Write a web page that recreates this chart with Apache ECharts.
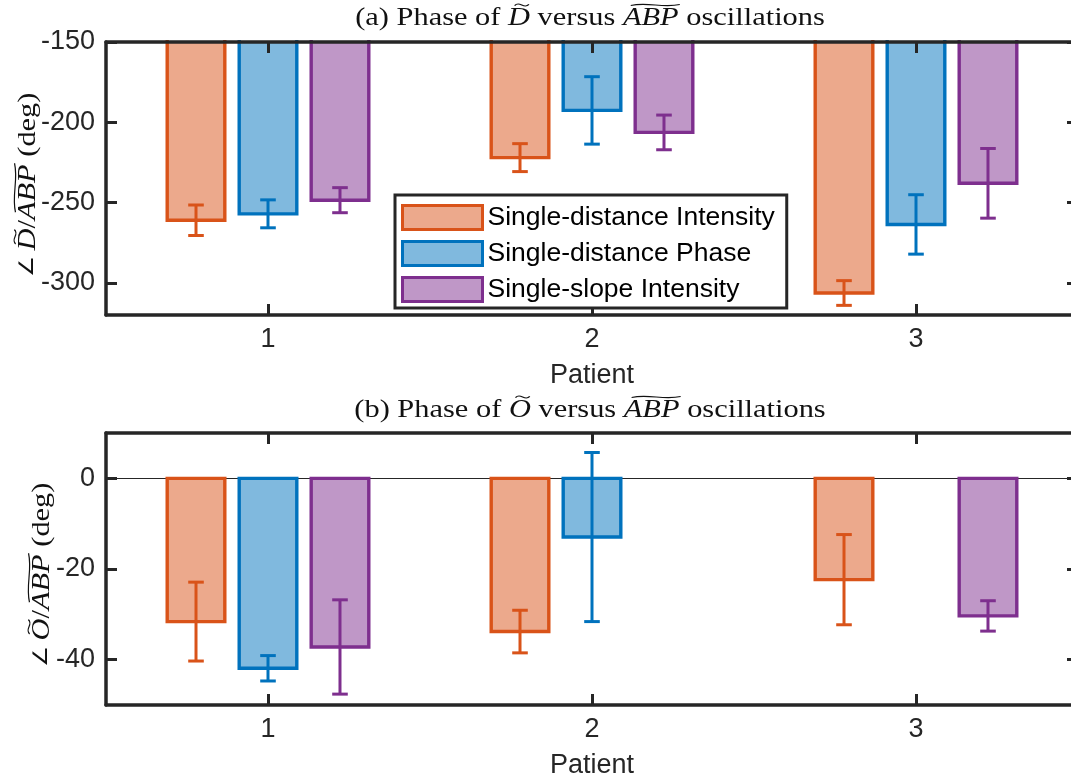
<!DOCTYPE html>
<html><head><meta charset="utf-8">
<script src="https://cdn.jsdelivr.net/npm/echarts@6/dist/echarts.min.js"></script>
<style>html,body{margin:0;padding:0;background:#fff}#c{width:1071px;height:782px}</style>
</head><body><div id="c"></div>
<script>
// ---------- data ----------
const categories = ['1', '2', '3'];
const seriesNames = ['Single-distance Intensity', 'Single-distance Phase', 'Single-slope Intensity'];
// Panel (a): phase of D~ vs ABP~ (deg)
const dMeanSDI = [-261, -222, -306.3];
const dErrSDI  = [9.5, 8.7, 7.7];
const dMeanSDP = [-257, -192.6, -263.6];
const dErrSDP  = [8.7, 21, 18.5];
const dMeanSSI = [-248.5, -206.3, -238];
const dErrSSI  = [7.8, 10.8, 21.7];
// Panel (b): phase of O~ vs ABP~ (deg)
const oMeanSDI = [-31.6, -33.8, -22.35];
const oErrSDI  = [8.7, 4.7, 9.95];
const oMeanSDP = [-41.9, -12.95, null];
const oErrSDP  = [2.8, 18.65, null];
const oMeanSSI = [-37.2, null, -30.35];
const oErrSSI  = [10.4, null, 3.35];
const yTicksA = [-300, -250, -200, -150];
const yTicksB = [-40, -20, 0];

// ---------- style ----------
const edge = ['#D95319', '#0072BD', '#7E2F8E'];
const fill = ['#ECA98C', '#80B9DE', '#BF97C7'];
const AX = '#262626';
const SANS = 'Liberation Sans, Arial, Helvetica, sans-serif';
const SERIF = 'Liberation Serif, Times New Roman, serif';
const FS = 27;

const chart = echarts.init(document.getElementById('c'), null, {renderer: 'canvas'});

function pack(means, errs) {
  return means.map((m, i) => (m == null ? [i, '-', '-'] : [i, m, errs[i]]));
}

function makeRender(k) {
  return function (params, api) {
    const v = api.value(1);
    if (v == null || isNaN(v)) return;
    const cat = api.value(0), e = api.value(2);
    const cs = params.coordSys;
    const band = api.size([1, 0])[0];
    const c = api.coord([cat, v]);
    const cx = c[0] + (k - 1) * band * 0.2222;
    const w = band * 0.1778;
    const x0 = cx - w / 2, x1 = cx + w / 2;
    const yv = c[1];
    const yz = api.coord([cat, 0])[1];
    const inside = yz >= cs.y && yz <= cs.y + cs.height;
    const top = Math.max(cs.y, Math.min(cs.y + cs.height, yz));
    const children = [];
    children.push({type: 'rect', shape: {x: x0, y: Math.min(top, yv), width: w, height: Math.abs(yv - top)},
      style: {fill: fill[k], stroke: null}});
    if (inside) {
      children.push({type: 'rect', shape: {x: x0, y: Math.min(top, yv), width: w, height: Math.abs(yv - top)},
        style: {fill: null, stroke: edge[k], lineWidth: 3.4}});
    } else {
      children.push({type: 'polyline', shape: {points: [[x0, top - 2], [x0, yv], [x1, yv], [x1, top - 2]]},
        style: {fill: null, stroke: edge[k], lineWidth: 3.4, lineJoin: 'miter'}});
    }
    const yHi = api.coord([cat, v + e])[1], yLo = api.coord([cat, v - e])[1];
    const cap = 7.8;
    const lw = 3;
    children.push({type: 'line', shape: {x1: cx, y1: yHi, x2: cx, y2: yLo}, style: {stroke: edge[k], lineWidth: lw}});
    children.push({type: 'line', shape: {x1: cx - cap, y1: yHi, x2: cx + cap, y2: yHi}, style: {stroke: edge[k], lineWidth: lw}});
    children.push({type: 'line', shape: {x1: cx - cap, y1: yLo, x2: cx + cap, y2: yLo}, style: {stroke: edge[k], lineWidth: lw}});
    return {type: 'group', children};
  };
}

// ---------- math-like labels ----------
const mctx = document.createElement('canvas').getContext('2d');
function measure(t, size, italic, family) {
  mctx.font = (italic ? 'italic ' : '') + size + 'px ' + family;
  return mctx.measureText(t).width;
}
function mathLabel(parts, size, family, stretch) {
  let x = 0;
  const kids = [];
  parts.forEach(p => {
    const s = p.size || size;
    const w = measure(p.t, s, p.italic, family);
    kids.push({type: 'text', x: x, y: 0, style: {text: p.t, fontSize: s, fontFamily: family,
      fontStyle: p.italic ? 'italic' : 'normal', fill: '#111', align: 'left', verticalAlign: 'middle'}});
    if (p.tilde) {
      const a = x + w * (p.wide ? 0.14 : 0.3), b = x + w * (p.wide ? 1.02 : 0.95);
      const ty = -size * 0.5;
      const amp = size * (p.wide ? 0.06 : 0.08);
      const L = b - a;
      kids.push({type: 'bezierCurve', shape: {x1: a, y1: ty + amp * 0.3, x2: b, y2: ty - amp * 0.3,
        cpx1: a + L * 0.35, cpy1: ty - amp * 2.2, cpx2: a + L * 0.65, cpy2: ty + amp * 2.2},
        style: {stroke: '#111', lineWidth: 1.2, fill: null}});
    }
    x += w;
  });
  return {type: 'group', children: [{type: 'group', scaleX: stretch, children: [{type: 'group', x: -x / 2, children: kids}]}]};
}

function title(letter, sym, cx, cy) {
  const g = mathLabel([
    {t: '(' + letter + ') Phase of '},
    {t: sym, italic: true, tilde: true},
    {t: ' versus '},
    {t: 'ABP', italic: true, tilde: true, wide: true},
    {t: ' oscillations'}
  ], 26, SERIF, 1.17);
  g.x = cx; g.y = cy;
  return g;
}
function ylab(sym, cx, cy) {
  const g = mathLabel([
    {t: '\u2220 ', size: 20},
    {t: sym, italic: true, tilde: true},
    {t: '/'},
    {t: 'ABP', italic: true, tilde: true, wide: true},
    {t: ' (deg)'}
  ], 26, SERIF, 1.17);
  g.x = cx; g.y = cy; g.rotation = Math.PI / 2;
  return g;
}

// ---------- axes ----------
function xAx(gi, pos, labels) {
  return {type: 'category', gridIndex: gi, data: categories, position: pos, z: 10,
    axisLine: {show: true, onZero: false, lineStyle: {color: AX, width: 3.5}},
    axisTick: {show: true, inside: true, length: 11, alignWithLabel: true, lineStyle: {color: AX, width: 3}},
    axisLabel: {show: labels, color: AX, fontSize: FS, fontFamily: SANS, margin: 11},
    splitLine: {show: false},
    name: labels ? 'Patient' : '', nameLocation: 'middle', nameGap: 47,
    nameTextStyle: {color: AX, fontSize: FS, fontFamily: SANS}};
}
function yAx(gi, pos, mn, mx, ticks, labels) {
  return {type: 'value', gridIndex: gi, position: pos, min: mn, max: mx, z: 10,
    axisLine: {show: true, onZero: false, lineStyle: {color: AX, width: 3.5}},
    axisTick: {show: true, inside: true, length: 11, customValues: ticks, lineStyle: {color: AX, width: 3}},
    axisLabel: {show: labels, customValues: ticks, color: AX, fontSize: FS, fontFamily: SANS, margin: 11},
    splitLine: {show: false}};
}

const series = [];
const aData = [pack(dMeanSDI, dErrSDI), pack(dMeanSDP, dErrSDP), pack(dMeanSSI, dErrSSI)];
const bData = [pack(oMeanSDI, oErrSDI), pack(oMeanSDP, oErrSDP), pack(oMeanSSI, oErrSSI)];
for (let k = 0; k < 3; k++) {
  series.push({type: 'custom', name: seriesNames[k], xAxisIndex: 0, yAxisIndex: 0,
    itemStyle: {color: fill[k], borderColor: edge[k]}, renderItem: makeRender(k),
    encode: {x: 0, y: 1}, data: aData[k]});
}
for (let k = 0; k < 3; k++) {
  const s = {type: 'custom', name: seriesNames[k], xAxisIndex: 2, yAxisIndex: 2,
    itemStyle: {color: fill[k], borderColor: edge[k]}, renderItem: makeRender(k),
    encode: {x: 0, y: 1}, data: bData[k]};
  if (k === 0) {
    s.markLine = {silent: true, symbol: 'none', label: {show: false}, z: 1,
      lineStyle: {color: AX, width: 1.2, type: 'solid'}, data: [{yAxis: 0}]};
  }
  series.push(s);
}

const option = {
  backgroundColor: '#fff',
  animation: false,
  grid: [
    {left: 106, top: 42, width: 972, height: 273, outerBoundsMode: 'none', containLabel: false},
    {left: 106, top: 433, width: 972, height: 272, outerBoundsMode: 'none', containLabel: false}
  ],
  xAxis: [xAx(0, 'bottom', true), xAx(0, 'top', false), xAx(1, 'bottom', true), xAx(1, 'top', false)],
  yAxis: [yAx(0, 'left', -320, -150, yTicksA, true), yAx(0, 'right', -320, -150, yTicksA, false),
          yAx(1, 'left', -50, 10, yTicksB, true), yAx(1, 'right', -50, 10, yTicksB, false)],
  legend: {
    orient: 'vertical', left: 395, top: 195, z: 20,
    data: seriesNames.map((n, i) => ({name: n, icon: 'rect',
      itemStyle: {color: fill[i], borderColor: edge[i], borderWidth: 3}})),
    itemWidth: 80, itemHeight: 24, itemGap: 9,
    textStyle: {fontSize: 26.5, color: '#000', fontFamily: SANS, padding: [0, 0, 0, 0]},
    borderColor: AX, borderWidth: 3, backgroundColor: '#fff', borderRadius: 0,
    padding: [9, 12, 5, 6], selectedMode: false
  },
  graphic: [
    title('a', 'D', 590, 18),
    title('b', 'O', 590, 410),
    ylab('D', 28, 185),
    ylab('O', 42, 575)
  ],
  series
};
chart.setOption(option);
</script>
</body></html>
